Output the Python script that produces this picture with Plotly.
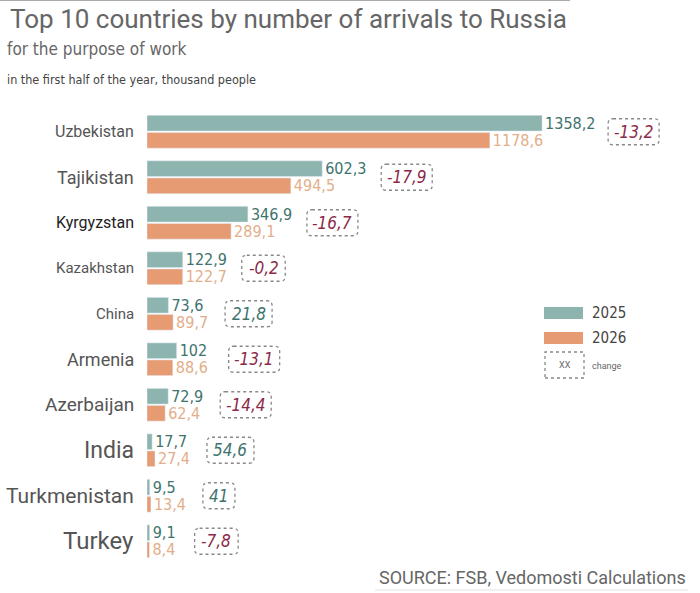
import plotly.graph_objects as go

countries = ["Uzbekistan", "Tajikistan", "Kyrgyzstan", "Kazakhstan", "China",
             "Armenia", "Azerbaijan", "India", "Turkmenistan", "Turkey"]
y2025 = [1358.2, 602.3, 346.9, 122.9, 73.6, 102, 72.9, 17.7, 9.5, 9.1]
y2026 = [1178.6, 494.5, 289.1, 122.7, 89.7, 88.6, 62.4, 27.4, 13.4, 8.4]
change = [-13.2, -17.9, -16.7, -0.2, 21.8, -13.1, -14.4, 54.6, 41, -7.8]
label_sizes = [16, 18, 16, 15, 15, 18, 19, 23, 21, 24]

TEAL = "#8db4ae"
ORANGE = "#e69b73"
TEAL_TXT = "#3e736e"
ORANGE_TXT = "#e3ae89"
RED_TXT = "#8c2946"
GRAY = "#666666"
NARROW = "Liberation Sans Narrow, DejaVu Sans Condensed, Roboto"


def fmt(v):
    s = ("%g" % v).replace(".", ",")
    return s


fig = go.Figure()
fig.add_trace(go.Bar(y=countries, x=y2025, orientation="h", name="2025",
                     marker_color=TEAL, text=[fmt(v) for v in y2025],
                     textposition="outside", cliponaxis=False, constraintext="none",
                     textfont=dict(color=TEAL_TXT, size=16, family=NARROW)))
fig.add_trace(go.Bar(y=countries, x=y2026, orientation="h", name="2026",
                     marker_color=ORANGE, text=[fmt(v) for v in y2026],
                     textposition="outside", cliponaxis=False, constraintext="none",
                     textfont=dict(color=ORANGE_TXT, size=16, family=NARROW)))

annotations = []
shapes = []
for i, c in enumerate(countries):
    # country label
    annotations.append(dict(x=136 / 700, xref="paper", y=c, yref="y", text=c,
                            xanchor="right", showarrow=False,
                            font=dict(size=label_sizes[i], family="Roboto",
                                      color="#222" if c == "Kyrgyzstan" else "#555")))
    # change box
    txt = fmt(change[i])
    lab_len = max(len(fmt(y2025[i])), len(fmt(y2026[i])))
    left = 24 + 7 * lab_len
    w = 17 + 7.5 * len(txt.lstrip("-")) + (4 if txt.startswith("-") else 0)
    xm = max(y2025[i], y2026[i])
    annotations.append(dict(x=xm, y=c, text="<i>%s</i>" % txt, showarrow=False,
                            xanchor="center", xshift=left + w / 2,
                            font=dict(size=17, family=NARROW,
                                      color=RED_TXT if change[i] < 0 else TEAL_TXT)))
    x0, x1, h, r = left, left + w, 13, 5
    path = ("M %g,%g L %g,%g Q %g,%g %g,%g L %g,%g Q %g,%g %g,%g L %g,%g Q %g,%g %g,%g "
            "L %g,%g Q %g,%g %g,%g Z" % (
                x0 + r, h, x1 - r, h, x1, h, x1, h - r, x1, -h + r, x1, -h, x1 - r, -h,
                x0 + r, -h, x0, -h, x0, -h + r, x0, h - r, x0, h, x0 + r, h))
    shapes.append(dict(type="path", xref="x", yref="y", xsizemode="pixel",
                       ysizemode="pixel", xanchor=xm, yanchor=i, path=path,
                       line=dict(color="#888", width=1.3, dash="dot")))

# custom legend
shapes += [
    dict(type="rect", xref="paper", yref="paper", x0=544 / 700, x1=583 / 700,
         y0=1 - 319 / 593, y1=1 - 307 / 593, fillcolor=TEAL, line_width=0),
    dict(type="rect", xref="paper", yref="paper", x0=544 / 700, x1=583 / 700,
         y0=1 - 344 / 593, y1=1 - 332 / 593, fillcolor=ORANGE, line_width=0),
    dict(type="rect", xref="paper", yref="paper", x0=545 / 700, x1=584 / 700,
         y0=1 - 378 / 593, y1=1 - 352 / 593, line=dict(color="#888", width=1.3, dash="dot")),
    dict(type="line", xref="paper", yref="paper", x0=375 / 700, x1=688 / 700,
         y0=1 - 590 / 593, y1=1 - 590 / 593, line=dict(color="#e3e3e3", width=1)),
    dict(type="line", xref="paper", yref="paper", x0=0, x1=570 / 700,
         y0=1, y1=1, line=dict(color="#aaaaaa", width=2)),
]
annotations += [
    dict(x=590 / 700, y=1 - 313 / 593, xref="paper", yref="paper", text="2025",
         xanchor="left", showarrow=False, font=dict(size=15, family=NARROW, color="#444")),
    dict(x=590 / 700, y=1 - 338 / 593, xref="paper", yref="paper", text="2026",
         xanchor="left", showarrow=False, font=dict(size=15, family=NARROW, color="#444")),
    dict(x=564.5 / 700, y=1 - 365 / 593, xref="paper", yref="paper", text="XX",
         xanchor="center", showarrow=False, font=dict(size=9, family="Roboto", color="#666")),
    dict(x=590 / 700, y=1 - 366 / 593, xref="paper", yref="paper", text="change",
         xanchor="left", showarrow=False, font=dict(size=9, family="Roboto", color="#666")),
    # titles
    dict(x=8 / 700, y=1 - 19 / 593, xref="paper", yref="paper",
         text="Top 10 countries by number of arrivals to Russia", xanchor="left",
         showarrow=False, font=dict(size=26, family="Roboto", color=GRAY)),
    dict(x=5 / 700, y=1 - 49 / 593, xref="paper", yref="paper",
         text="for the purpose of work", xanchor="left",
         showarrow=False, font=dict(size=17, family=NARROW, color=GRAY)),
    dict(x=5 / 700, y=1 - 79 / 593, xref="paper", yref="paper",
         text="in the first half of the year, thousand people", xanchor="left",
         showarrow=False, font=dict(size=12.5, family=NARROW, color="#444")),
    dict(x=688 / 700, y=1 - 577 / 593, xref="paper", yref="paper",
         text="SOURCE: FSB, Vedomosti Calculations", xanchor="right",
         showarrow=False, font=dict(size=18, family="Roboto", color=GRAY)),
]
for a in annotations:
    a.setdefault("yanchor", "middle")

fig.update_layout(
    width=700, height=593,
    margin=dict(l=0, r=0, t=0, b=0),
    paper_bgcolor="white", plot_bgcolor="white",
    barmode="group", bargap=0.25, bargroupgap=0.08,
    showlegend=False,
    xaxis=dict(domain=[147 / 700, 1], range=[0, 1901], visible=False),
    yaxis=dict(domain=[1 - 564 / 593, 1 - 109 / 593], autorange="reversed",
               showticklabels=False, showgrid=False, zeroline=False),
    annotations=annotations, shapes=shapes,
)

fig.write_html("out.html", config={"displayModeBar": False},
               post_script="document.body.style.margin='0';")
